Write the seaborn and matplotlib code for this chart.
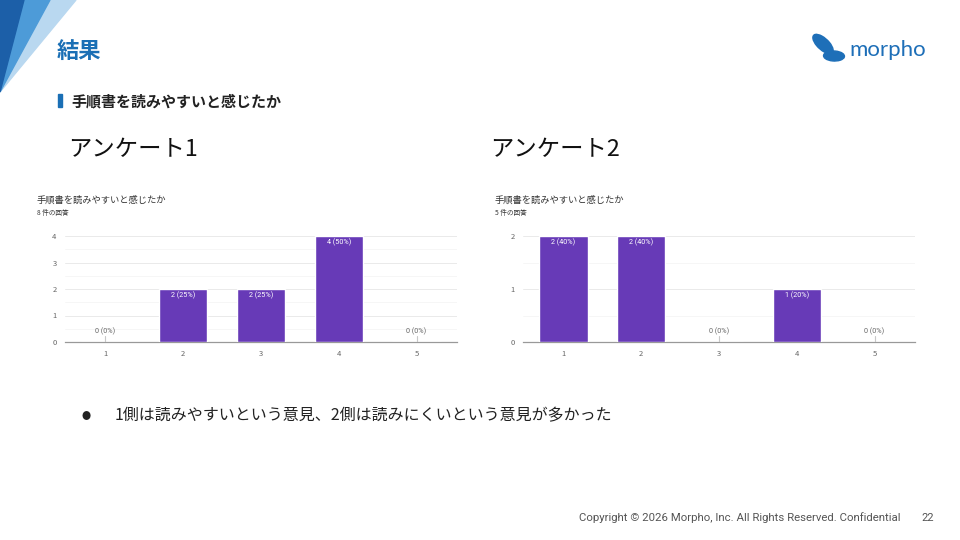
import matplotlib
matplotlib.use('Agg')
import matplotlib.pyplot as plt
import matplotlib.patches as mpatches
import seaborn as sns

# data
categories = ['1', '2', '3', '4', '5']
survey1_counts = [0, 2, 2, 4, 0]
survey2_counts = [2, 2, 0, 1, 0]
survey1_total = 8
survey2_total = 5
question = '手順書を読みやすいと感じたか'
survey_names = ['アンケート1', 'アンケート2']
comment = '1側は読みやすいという意見、2側は読みにくいという意見が多かった'
footer = 'Copyright © 2026 Morpho, Inc. All Rights Reserved. Confidential'
page_no = '22'

sns.set_theme(style='white')
plt.rcParams['font.family'] = ['Noto Sans CJK JP', 'DejaVu Sans']

BLUE = '#1a6fb5'
PURPLE = '#673ab7'
GRAY = '#666666'

fig = plt.figure(figsize=(9.6, 5.4), dpi=100)
W, H = 960, 540


def fx(x):
    return x / W


def fy(y):
    return 1 - y / H


# top-left decoration
for pts, c in [
    ([(48, 0), (76, 0), (0, 92)], '#b9d8f0'),
    ([(22, 0), (50, 0), (0, 92)], '#4d9bd8'),
    ([(0, 0), (24, 0), (0, 92)], '#1c5fa8'),
]:
    fig.patches.append(mpatches.Polygon([(fx(a), fy(b)) for a, b in pts],
                                        closed=True, transform=fig.transFigure,
                                        color=c, zorder=0))

fig.text(fx(57), fy(51), '結果', fontsize=16, fontweight='bold', color=BLUE, va='center')
fig.patches.append(mpatches.Rectangle((fx(58), fy(107)), fx(4), 13 / H,
                                      transform=fig.transFigure, color=BLUE))
fig.text(fx(71), fy(101), question, fontsize=10.8, fontweight='bold', color='#222222', va='center')

# logo
fig.patches.append(mpatches.Ellipse((fx(823), fy(44)), 14 / W, 21 / H, angle=25,
                                    transform=fig.transFigure, color='#1e6fb8'))
fig.patches.append(mpatches.Ellipse((fx(834), fy(56)), 21 / W, 10 / H, angle=-10,
                                    transform=fig.transFigure, color='#1e6fb8'))
fig.text(fx(849), fy(50), 'morpho', fontsize=16, color='#1e6fb8', va='center',
         family=['Lato', 'DejaVu Sans'])

fig.text(fx(68), fy(150), survey_names[0], fontsize=16.8, color='#111111', va='center')
fig.text(fx(490), fy(150), survey_names[1], fontsize=16.8, color='#111111', va='center')


def draw_survey(left_px, counts, total, label_x_px):
    fig.text(fx(label_x_px), fy(200), question, fontsize=6.7, color='#333333', va='center')
    fig.text(fx(label_x_px), fy(213), f'{total} 件の回答', fontsize=4.8, color='#333333', va='center')
    ax = fig.add_axes([fx(left_px), fy(342), 392 / W, 106 / H])
    sns.barplot(x=categories, y=counts, color=PURPLE, width=0.62, ax=ax,
                saturation=1, zorder=3)
    top = max(counts)
    ax.set_ylim(0, top)
    ax.set_xlim(-0.52, 4.52)
    ax.set_yticks(range(top + 1))
    ax.set_yticks([i + 0.5 for i in range(top)], minor=True)
    ax.grid(axis='y', which='major', color='#e6e6e6', lw=0.6, zorder=0)
    ax.grid(axis='y', which='minor', color='#f3f3f3', lw=0.5, zorder=0)
    for s in ['top', 'right', 'left']:
        ax.spines[s].set_visible(False)
    ax.spines['bottom'].set_color('#999999')
    ax.spines['bottom'].set_linewidth(0.9)
    ax.tick_params(axis='both', labelsize=5.5, colors=GRAY, length=0, pad=6)
    ax.set_xlabel('')
    ax.set_ylabel('')
    for i, c in enumerate(counts):
        pct = round(c / total * 100)
        txt = f'{c} ({pct}%)'
        if c == 0:
            ax.annotate(txt, (i, 0), xytext=(0, 7.5), textcoords='offset points',
                        ha='center', va='center', fontsize=5.2, color=GRAY,
                        family=['Roboto', 'DejaVu Sans'])
            ax.plot([i, i], [0, top * 0.055], color='#c8c8c8', lw=0.8, zorder=4)
        else:
            ax.annotate(txt, (i, c), xytext=(0, -5), textcoords='offset points',
                        ha='center', va='center', fontsize=5.2, color='white',
                        family=['Roboto', 'DejaVu Sans'])
    return ax


draw_survey(65, survey1_counts, survey1_total, 37)
draw_survey(523, survey2_counts, survey2_total, 495)

fig.text(fx(86), fy(416), '●', fontsize=6.5, color='#222222', va='center', ha='center')
fig.text(fx(115), fy(416), comment, fontsize=11.5, color='#222222', va='center')

fig.text(fx(579), fy(518), footer, fontsize=8.2, color='#555555', va='center',
         family=['Roboto', 'DejaVu Sans'])
fig.text(fx(921), fy(518), page_no, fontsize=8, color='#555555', va='center',
         family=['Roboto', 'DejaVu Sans'])

fig.savefig('out.png', dpi=100)
